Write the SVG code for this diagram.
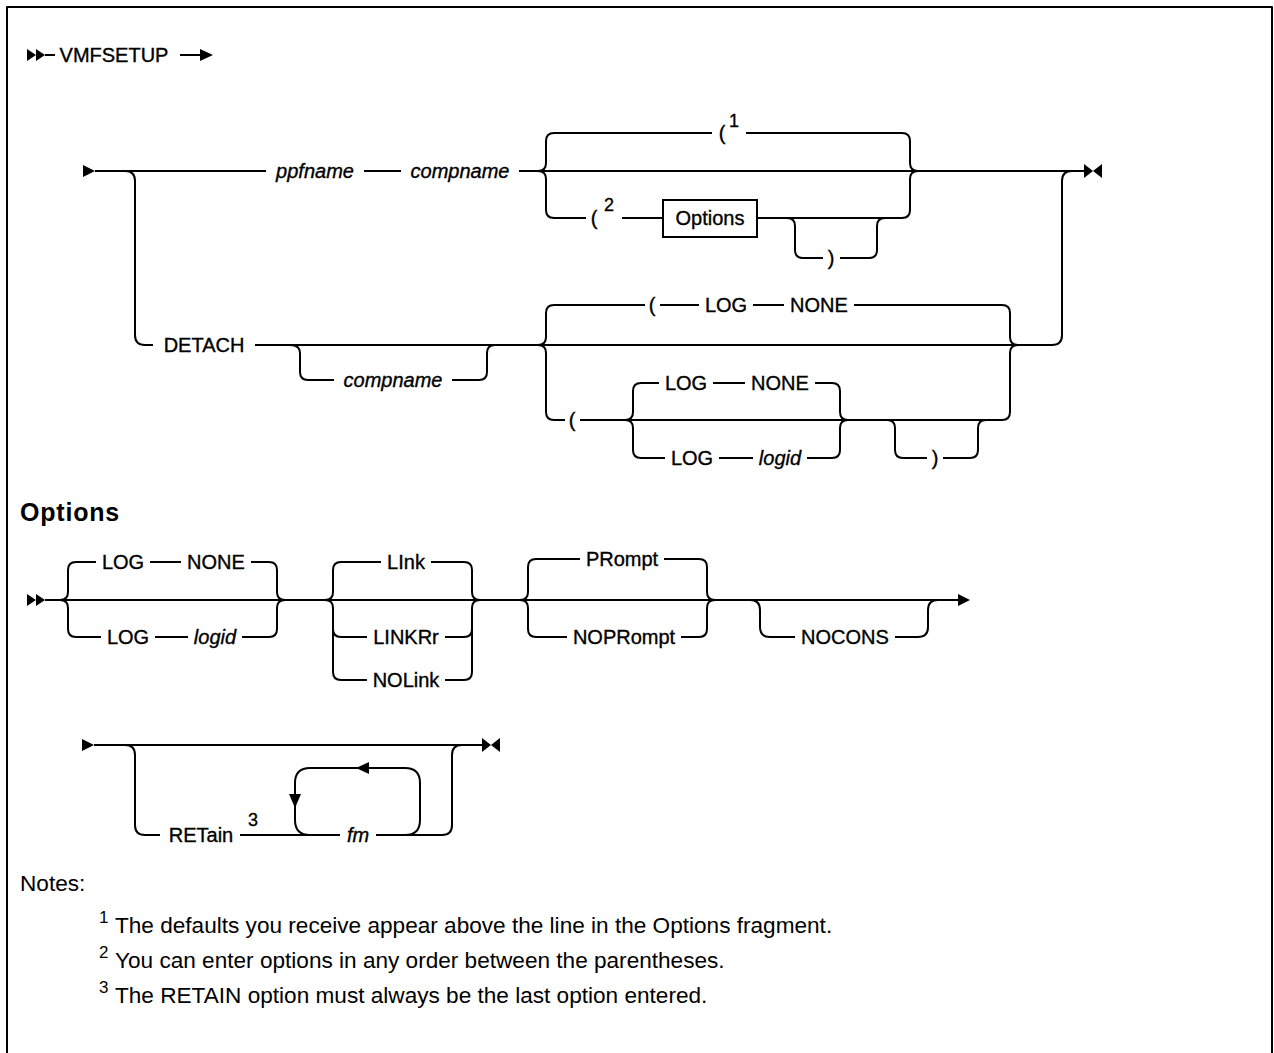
<svg xmlns="http://www.w3.org/2000/svg" width="1274" height="1053" viewBox="0 0 1274 1053">
<style>
.ln{fill:none;stroke:#000;stroke-width:2;stroke-linejoin:round;stroke-linecap:butt}
.ah{fill:#000;stroke:none}
.t{font-family:"Liberation Sans",Arial,sans-serif;font-size:20px;fill:#000;stroke:#000;stroke-width:0.35;text-anchor:middle}
.i{font-style:italic}
.sup{font-family:"Liberation Sans",Arial,sans-serif;font-size:17px;fill:#000}
.dsup{font-family:"Liberation Sans",Arial,sans-serif;font-size:18px;fill:#000;stroke:#000;stroke-width:0.35}
.note{font-family:"Liberation Sans",Arial,sans-serif;font-size:22.6px;fill:#000}
.head{font-family:"Liberation Sans",Arial,sans-serif;font-size:25px;font-weight:bold;letter-spacing:0.8px;fill:#000}
.box{fill:#fff;stroke:#000;stroke-width:2}
</style>
<rect width="1274" height="1053" fill="#fff"/>
<path class="ln" d="M7,1053 V7 H1272 V1053"/>

<g id="connectors">
  <!-- title -->
  <polygon class="ah" points="27,49 27,61 36,55"/>
  <polygon class="ah" points="36,49 36,61 45,55"/>
  <path class="ln" d="M45,55 H55 M180,55 H202"/>
  <polygon class="ah" points="200,49 200,61 213,55"/>

  <!-- main row -->
  <polygon class="ah" points="83,165 83,177 95,171"/>
  <path class="ln" d="M95,171 H266 M364,171 H401 M519,171 H1084"/>
  <polygon class="ah" points="1084,164 1084,178 1093,171"/>
  <polygon class="ah" points="1102,164 1102,178 1093,171"/>
  <path class="ln" d="M125,171 Q135,171 135,181 V335 Q135,345 145,345 H153"/>
  <!-- group 1 braces -->
  <path class="ln" d="M554,133 Q546,133 546,141 V163 Q546,171 538,171 M538,171 Q546,171 546,179 V210 Q546,218 554,218"/>
  <path class="ln" d="M902,133 Q910,133 910,141 V163 Q910,171 918,171 M918,171 Q910,171 910,179 V210 Q910,218 902,218"/>
  <path class="ln" d="M554,133 H712 M746,133 H902"/>
  <path class="ln" d="M554,218 H586 M622,218 H663 M757,218 H902"/>
  <path class="ln" d="M787,218 Q795,218 795,226 V250 Q795,258 803,258 H823 M840,258 H869 Q877,258 877,250 V226 Q877,218 885,218"/>

  <!-- detach row -->
  <path class="ln" d="M255,345 H1052 Q1062,345 1062,335 V181 Q1062,171 1072,171"/>
  <path class="ln" d="M290,345 Q300,345 300,353 V372 Q300,380 308,380 H334 M452,380 H479 Q487,380 487,372 V353 Q487,345 495,345"/>
  <path class="ln" d="M554,305 Q546,305 546,313 V337 Q546,345 538,345 M538,345 Q546,345 546,353 V412 Q546,420 554,420"/>
  <path class="ln" d="M1002,305 Q1010,305 1010,313 V337 Q1010,345 1018,345 M1018,345 Q1010,345 1010,353 V412 Q1010,420 1002,420"/>
  <path class="ln" d="M554,305 H645 M660,305 H699 M753,305 H784 M854,305 H1002"/>
  <path class="ln" d="M554,420 H565 M580,420 H1002"/>
  <path class="ln" d="M641,383 Q633,383 633,391 V412 Q633,420 625,420 M625,420 Q633,420 633,428 V450 Q633,458 641,458"/>
  <path class="ln" d="M832,383 Q840,383 840,391 V412 Q840,420 848,420 M848,420 Q840,420 840,428 V450 Q840,458 832,458"/>
  <path class="ln" d="M641,383 H659 M713,383 H745 M815,383 H832"/>
  <path class="ln" d="M641,458 H665 M719,458 H753 M807,458 H832"/>
  <path class="ln" d="M887,420 Q895,420 895,428 V450 Q895,458 903,458 H927 M943,458 H970 Q978,458 978,450 V428 Q978,420 986,420"/>

  <!-- options row -->
  <polygon class="ah" points="27,594 27,606 36,600"/>
  <polygon class="ah" points="36,594 36,606 45,600"/>
  <path class="ln" d="M45,600 H958"/>
  <polygon class="ah" points="958,594 958,606 970,600"/>
  <path class="ln" d="M76,562 Q68,562 68,570 V592 Q68,600 60,600 M60,600 Q68,600 68,608 V629 Q68,637 76,637"/>
  <path class="ln" d="M269,562 Q277,562 277,570 V592 Q277,600 285,600 M285,600 Q277,600 277,608 V629 Q277,637 269,637"/>
  <path class="ln" d="M76,562 H96 M150,562 H181 M251,562 H269"/>
  <path class="ln" d="M76,637 H101 M155,637 H188 M242,637 H269"/>
  <path class="ln" d="M341,562 Q333,562 333,570 V592 Q333,600 325,600 M325,600 Q333,600 333,608 V672 Q333,680 341,680 M333,629 Q333,637 341,637"/>
  <path class="ln" d="M464,562 Q472,562 472,570 V592 Q472,600 480,600 M480,600 Q472,600 472,608 V672 Q472,680 464,680 M472,629 Q472,637 464,637"/>
  <path class="ln" d="M341,562 H381 M431,562 H464 M341,637 H367 M445,637 H464 M341,680 H367 M445,680 H464"/>
  <path class="ln" d="M536,559 Q528,559 528,567 V592 Q528,600 520,600 M520,600 Q528,600 528,608 V629 Q528,637 536,637"/>
  <path class="ln" d="M699,559 Q707,559 707,567 V592 Q707,600 715,600 M715,600 Q707,600 707,608 V629 Q707,637 699,637"/>
  <path class="ln" d="M536,559 H580 M664,559 H699 M536,637 H567 M681,637 H699"/>
  <path class="ln" d="M750,600 Q760,600 760,610 V627 Q760,637 770,637 H795 M895,637 H918 Q928,637 928,627 V610 Q928,600 938,600"/>

  <!-- retain row -->
  <polygon class="ah" points="82,739 82,751 94,745"/>
  <path class="ln" d="M94,745 H482"/>
  <polygon class="ah" points="482,738 482,752 491,745"/>
  <polygon class="ah" points="500,738 500,752 491,745"/>
  <path class="ln" d="M125,745 Q135,745 135,755 V825 Q135,835 145,835 H160"/>
  <path class="ln" d="M240,835 H340 M376,835 H442 Q452,835 452,825 V755 Q452,745 462,745"/>
  <path class="ln" d="M310,835 Q295,835 295,820 V783 Q295,768 310,768 H405 Q420,768 420,783 V820 Q420,835 405,835"/>
  <polygon class="ah" points="289,794 301,794 295,808"/>
  <polygon class="ah" points="369,762 369,774 356,768"/>
</g>

<g id="n-vmfsetup"><text class="t" x="114" y="62">VMFSETUP</text></g>
<g id="n-ppfname"><text class="t i" x="315" y="178">ppfname</text></g>
<g id="n-compname1"><text class="t i" x="460" y="178">compname</text></g>
<g id="n-paren-default"><text class="t" x="722" y="140">(</text><text class="dsup" x="729" y="127">1</text></g>
<g id="n-paren-opt"><text class="t" x="594" y="225">(</text><text class="dsup" x="604" y="211">2</text></g>
<g id="n-options-ref"><rect class="box" x="663" y="200" width="94" height="37"/><text class="t" x="710" y="225">Options</text></g>
<g id="n-rparen1"><text class="t" x="831" y="265">)</text></g>
<g id="n-detach"><text class="t" x="204" y="352">DETACH</text></g>
<g id="n-compname2"><text class="t i" x="393" y="387">compname</text></g>
<g id="n-paren-log-none"><text class="t" x="652" y="312">(</text><text class="t" x="726" y="312">LOG</text><text class="t" x="819" y="312">NONE</text></g>
<g id="n-paren2"><text class="t" x="572" y="427">(</text></g>
<g id="n-log-none2"><text class="t" x="686" y="390">LOG</text><text class="t" x="780" y="390">NONE</text></g>
<g id="n-log-logid2"><text class="t" x="692" y="465">LOG</text><text class="t i" x="780" y="465">logid</text></g>
<g id="n-rparen2"><text class="t" x="935" y="465">)</text></g>

<g id="n-options-heading"><text class="head" x="20" y="521">Options</text></g>
<g id="n-log-none3"><text class="t" x="123" y="569">LOG</text><text class="t" x="216" y="569">NONE</text></g>
<g id="n-log-logid3"><text class="t" x="128" y="644">LOG</text><text class="t i" x="215" y="644">logid</text></g>
<g id="n-link"><text class="t" x="406" y="569">LInk</text></g>
<g id="n-linkrr"><text class="t" x="406" y="644">LINKRr</text></g>
<g id="n-nolink"><text class="t" x="406" y="687">NOLink</text></g>
<g id="n-prompt"><text class="t" x="622" y="566">PRompt</text></g>
<g id="n-noprompt"><text class="t" x="624" y="644">NOPRompt</text></g>
<g id="n-nocons"><text class="t" x="845" y="644">NOCONS</text></g>
<g id="n-retain"><text class="t" x="201" y="842">RETain</text><text class="dsup" x="248" y="826">3</text></g>
<g id="n-fm"><text class="t i" x="358" y="842">fm</text></g>

<g id="notes">
  <text class="note" x="20" y="891">Notes:</text>
  <text class="sup" x="99" y="923">1</text><text class="note" x="115" y="933">The defaults you receive appear above the line in the Options fragment.</text>
  <text class="sup" x="99" y="958">2</text><text class="note" x="115" y="968">You can enter options in any order between the parentheses.</text>
  <text class="sup" x="99" y="993">3</text><text class="note" x="115" y="1003">The RETAIN option must always be the last option entered.</text>
</g>
</svg>
